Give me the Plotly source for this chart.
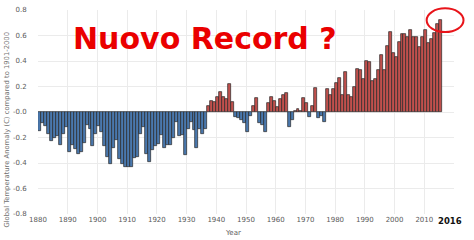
import plotly.graph_objects as go

years = list(range(1880, 2016))
anomaly = [
    -0.15, -0.09, -0.11, -0.17, -0.23, -0.20, -0.19, -0.26, -0.17, -0.12,  # 1880s
    -0.31, -0.26, -0.29, -0.33, -0.31, -0.24, -0.10, -0.13, -0.27, -0.17,  # 1890s
    -0.11, -0.16, -0.27, -0.35, -0.41, -0.28, -0.22, -0.37, -0.41, -0.43,  # 1900s
    -0.43, -0.43, -0.36, -0.35, -0.17, -0.12, -0.33, -0.39, -0.30, -0.27,  # 1910s
    -0.25, -0.18, -0.28, -0.26, -0.26, -0.20, -0.08, -0.19, -0.18, -0.34,  # 1920s
    -0.13, -0.08, -0.14, -0.28, -0.13, -0.17, -0.13, 0.05, 0.09, 0.08,     # 1930s
    0.12, 0.16, 0.12, 0.10, 0.22, 0.08, -0.04, -0.05, -0.06, -0.09,        # 1940s
    -0.16, -0.03, 0.05, 0.11, -0.09, -0.10, -0.16, 0.07, 0.12, 0.09,       # 1950s
    0.04, 0.10, 0.13, 0.15, -0.12, -0.06, 0.01, 0.02, 0.01, 0.11,          # 1960s
    0.07, -0.04, 0.05, 0.19, -0.05, -0.03, -0.08, 0.18, 0.13, 0.18,        # 1970s
    0.23, 0.27, 0.13, 0.31, 0.13, 0.12, 0.20, 0.34, 0.33, 0.26,            # 1980s
    0.40, 0.39, 0.24, 0.26, 0.33, 0.45, 0.33, 0.52, 0.63, 0.46,            # 1990s
    0.43, 0.55, 0.61, 0.615, 0.59, 0.645, 0.59, 0.59, 0.51, 0.59,          # 2000s
    0.645, 0.54, 0.575, 0.62, 0.69, 0.725,                                 # 2010s
]
x_ticks = list(range(1880, 2011, 10))
y_ticks = [-0.8, -0.6, -0.4, -0.2, 0.0, 0.2, 0.4, 0.6, 0.8]
y_tick_text = ["-0.8", "-0.6", "-0.4", "-0.2", "-0.0", "0.2", "0.4", "0.6", "0.8"]
title_text = "Nuovo Record ?"
y_title = "Global Temperature Anomaly (C) compared to 1901-2000"
x_title = "Year"
highlight_label = "2016"

BLUE = "#4a78ad"
RED = "#c0504d"
colors = [RED if v > 0 else BLUE for v in anomaly]

X_RANGE = [1880, 2020]
Y_RANGE = [-0.8, 0.8]

fig = go.Figure()
fig.add_trace(go.Bar(
    x=years, y=anomaly, width=1, offset=0,
    marker=dict(color=colors, line=dict(color="#262626", width=0.7)),
    showlegend=False,
))

def px_paper(xv):
    return (xv - X_RANGE[0]) / (X_RANGE[1] - X_RANGE[0])

def py_paper(yv):
    return (yv - Y_RANGE[0]) / (Y_RANGE[1] - Y_RANGE[0])

# highlight ellipse around the latest value
cx = years[-1] + 2.0
cy = anomaly[-1] - 0.005
fig.add_shape(type="circle", xref="paper", yref="paper",
              x0=px_paper(cx - 6.2), x1=px_paper(cx + 6.2),
              y0=py_paper(cy - 0.093), y1=py_paper(cy + 0.093),
              line=dict(color="#e8141a", width=2))

fig.add_annotation(text=title_text, xref="paper", yref="paper",
                   x=px_paper(1936.2), y=py_paper(0.575), showarrow=False,
                   xanchor="center", yanchor="middle",
                   font=dict(family="DejaVu Sans", size=30, color="#ea0000", weight="bold"))
fig.add_annotation(text=y_title, xref="paper", yref="paper", textangle=-90,
                   x=-0.074, y=0.415, showarrow=False,
                   xanchor="center", yanchor="middle",
                   font=dict(family="DejaVu Sans", size=6.8, color="#707070"))
fig.add_annotation(text=x_title, xref="paper", yref="paper",
                   x=0.469, y=0, yshift=-19, showarrow=False,
                   xanchor="center", yanchor="middle",
                   font=dict(family="DejaVu Sans", size=7, color="#606060"))
fig.add_annotation(text="<b>" + highlight_label + "</b>", xref="paper", yref="paper",
                   x=px_paper(2018.6), y=0, yshift=-7, showarrow=False,
                   xanchor="center", yanchor="middle",
                   font=dict(family="DejaVu Sans", size=8.5, color="#111111"))

fig.update_layout(
    width=474, height=240,
    margin=dict(l=38, r=20, t=6, b=26),
    paper_bgcolor="white", plot_bgcolor="white",
    bargap=0,
    xaxis=dict(range=X_RANGE, tickvals=x_ticks, showgrid=True, gridcolor="#ebebeb",
               gridwidth=1, zeroline=False, ticks="", showline=False,
               tickfont=dict(family="DejaVu Sans", size=7, color="#5a5a5a")),
    yaxis=dict(range=Y_RANGE, tickvals=y_ticks, ticktext=y_tick_text,
               showgrid=True, gridcolor="#ebebeb", gridwidth=1, zeroline=False,
               ticks="outside", ticklen=9, tickcolor="rgba(0,0,0,0)",
               tickfont=dict(family="DejaVu Sans", size=7, color="#5a5a5a")),
)

fig.write_html("out.html")
